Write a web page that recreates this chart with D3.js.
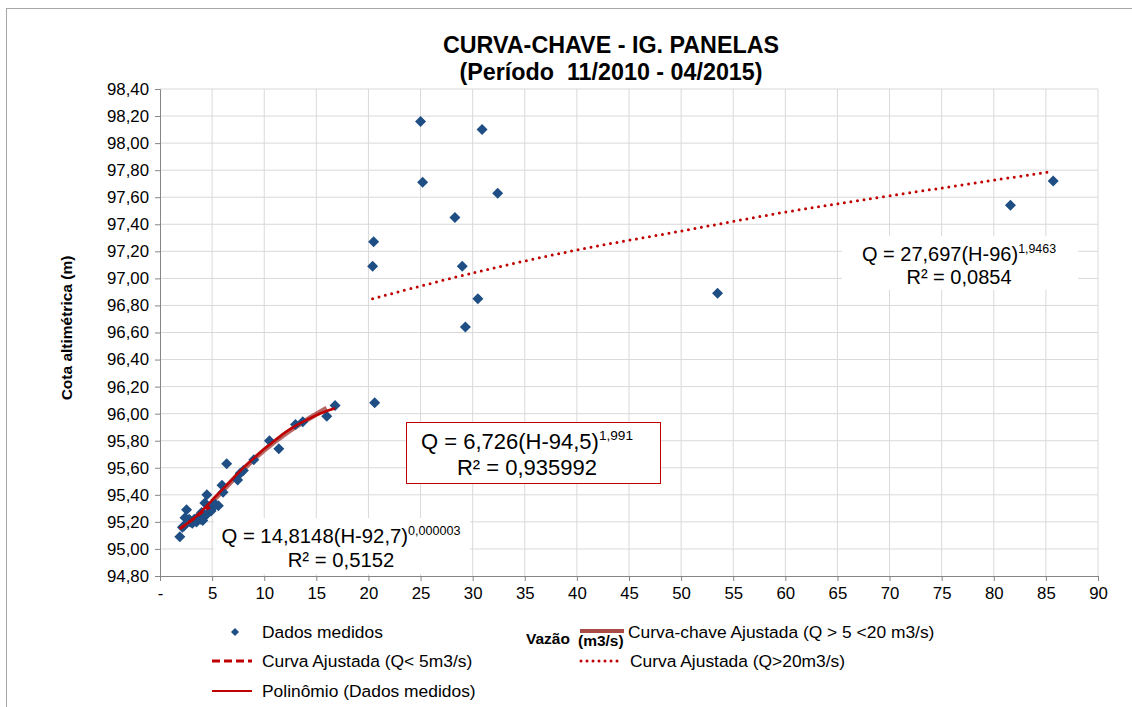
<!DOCTYPE html>
<html>
<head>
<meta charset="utf-8">
<script src="https://cdn.jsdelivr.net/npm/d3@7"></script>
<style>
body { margin: 0; background: #fff; }
text { font-family: "Liberation Sans", Arial, sans-serif; }
</style>
</head>
<body>
<svg width="1132" height="707"></svg>
<script>
// Dados medidos (vazão m3/s, cota m)
const vazao = [25.0, 30.9, 25.2, 32.4, 28.3, 20.5, 20.4, 29.0, 30.5, 29.3, 20.6, 53.5, 81.6, 85.7,
    16.8, 16.0, 13.7, 13.0, 10.5, 11.4, 9.0, 8.0, 7.7, 7.45, 6.4, 5.95, 6.05, 5.6, 5.1, 5.0,
    4.5, 4.3, 4.0, 4.4, 3.5, 3.1, 2.55, 2.4, 2.15, 1.9, 3.7, 2.9, 4.7, 3.3, 3.9, 4.1, 2.8, 2.3, 5.3, 4.9];
const cota = [98.16, 98.10, 97.71, 97.63, 97.45, 97.27, 97.09, 97.09, 96.85, 96.64, 96.08, 96.89, 97.54, 97.72,
    96.06, 95.98, 95.94, 95.92, 95.80, 95.74, 95.66, 95.58, 95.56, 95.51, 95.63, 95.47, 95.42, 95.32, 95.32, 95.30,
    95.40, 95.34, 95.27, 95.25, 95.20, 95.19, 95.29, 95.23, 95.16, 95.09, 95.24, 95.20, 95.31, 95.22, 95.22, 95.21, 95.22, 95.17, 95.33, 95.28];

// curvas
const poliQ = [1.9, 3, 4, 5, 6, 7, 8, 9, 10, 11, 12, 13, 14, 15, 16, 16.8];
const poliH = [95.15, 95.21, 95.28, 95.36, 95.44, 95.52, 95.60, 95.67, 95.74, 95.80, 95.86, 95.91, 95.95, 95.99, 96.02, 96.04];
const chaveQ = [5.0, 6, 8, 10, 12, 14, 16];
const chaveH = [95.35, 95.43, 95.59, 95.73, 95.85, 95.95, 96.04];
const baixaQ = [1.9, 3, 4, 4.8];
const baixaH = [95.15, 95.21, 95.27, 95.31];
const altaQ = [20.4, 30, 40, 50, 60, 70, 85.6];
const altaH = [96.85, 97.04, 97.21, 97.35, 97.49, 97.61, 97.79];

const xTicks = [0, 5, 10, 15, 20, 25, 30, 35, 40, 45, 50, 55, 60, 65, 70, 75, 80, 85, 90];
const yTicks = [94.8, 95.0, 95.2, 95.4, 95.6, 95.8, 96.0, 96.2, 96.4, 96.6, 96.8, 97.0, 97.2, 97.4, 97.6, 97.8, 98.0, 98.2, 98.4];

const svg = d3.select("svg");
const red = "#c00000";
const blue = "#1f4e85";

// borda do gráfico
svg.append("rect")
    .attr("x", 6.5).attr("y", 8.5)
    .attr("width", 1200).attr("height", 800)
    .attr("fill", "none").attr("stroke", "#a6a6a6");

const x = d3.scaleLinear().domain([0, 90]).range([160, 1098]);
const y = d3.scaleLinear().domain([94.8, 98.4]).range([576, 89]);

// grade
svg.append("g")
    .selectAll("line.v")
    .data(xTicks.slice(1))
    .enter().append("line")
    .attr("x1", d => x(d)).attr("x2", d => x(d))
    .attr("y1", y(98.4)).attr("y2", y(94.8))
    .attr("stroke", "#d9d9d9");
svg.append("g")
    .selectAll("line.h")
    .data(yTicks.slice(1))
    .enter().append("line")
    .attr("x1", x(0)).attr("x2", x(90))
    .attr("y1", d => y(d)).attr("y2", d => y(d))
    .attr("stroke", "#d9d9d9");

const fmtY = d => d3.format(".2f")(d).replace(".", ",");

const gx = svg.append("g")
    .attr("transform", `translate(0,${y(94.8)})`)
    .call(d3.axisBottom(x).tickValues(xTicks).tickSize(5).tickPadding(6)
        .tickFormat(d => d === 0 ? "-" : d));
const gy = svg.append("g")
    .attr("transform", `translate(${x(0)},0)`)
    .call(d3.axisLeft(y).tickValues(yTicks).tickSize(5).tickPadding(6).tickFormat(fmtY));

[gx, gy].forEach(g => {
    g.select(".domain").attr("stroke", "#868686");
    g.selectAll(".tick line").attr("stroke", "#868686");
    g.selectAll(".tick text").attr("fill", "#000").style("font-size", "16.8px")
        .style("font-family", "'Liberation Sans', Arial, sans-serif");
});

// curvas
const line = d3.line().x(d => x(d[0])).y(d => y(d[1])).curve(d3.curveCatmullRom);
const zip = (a, b) => a.map((v, i) => [v, b[i]]);

svg.append("path").datum(zip(baixaQ, baixaH)).attr("d", line)
    .attr("fill", "none").attr("stroke", "rgba(225,130,130,0.6)").attr("stroke-width", 6);
svg.append("path").datum(zip(chaveQ, chaveH)).attr("d", line)
    .attr("fill", "none").attr("stroke", "rgba(165,65,60,0.8)").attr("stroke-width", 5);

// pontos medidos
const diamond = r => `M0,${-r}L${r},0L0,${r}L${-r},0Z`;
svg.append("g")
    .selectAll("path")
    .data(zip(vazao, cota))
    .enter().append("path")
    .attr("transform", d => `translate(${x(d[0])},${y(d[1])})`)
    .attr("d", diamond(5.5))
    .attr("fill", blue);

svg.append("path").datum(zip(poliQ, poliH)).attr("d", line)
    .attr("fill", "none").attr("stroke", red).attr("stroke-width", 2.5);
svg.append("path").datum(zip(baixaQ, baixaH)).attr("d", line)
    .attr("fill", "none").attr("stroke", red).attr("stroke-width", 3).attr("stroke-dasharray", "7,4");
svg.append("path").datum(zip(altaQ, altaH)).attr("d", line)
    .attr("fill", "none").attr("stroke", red).attr("stroke-width", 3)
    .attr("stroke-dasharray", "0,6.6").attr("stroke-linecap", "round");

// equações
function equation(cx, y1, main, sup, r2, size, box) {
    const g = svg.append("g");
    g.append("rect").attr("x", box[0]).attr("y", box[1]).attr("width", box[2]).attr("height", box[3])
        .attr("fill", "#fff").attr("stroke", box[4] || "none");
    const t = g.append("text").attr("x", cx).attr("y", y1).attr("text-anchor", "middle")
        .style("font-size", size + "px");
    t.append("tspan").text(main);
    t.append("tspan").attr("dy", -size * 0.4).style("font-size", (size * 0.62) + "px").text(sup);
    g.append("text").attr("x", cx).attr("y", y1 + size * 1.17).attr("text-anchor", "middle")
        .style("font-size", size + "px").text(r2);
}
equation(527, 449, "Q = 6,726(H-94,5)", "1,991", "R² = 0,935992", 22, [406.5, 422.5, 254, 61, red]);
equation(959, 261, "Q = 27,697(H-96)", "1,9463", "R² = 0,0854", 20, [842, 236, 236, 54]);
equation(341, 543, "Q = 14,8148(H-92,7)", "0,000003", "R² = 0,5152", 20.3, [214, 518, 256, 56]);

// títulos
svg.append("text").attr("x", 611).attr("y", 53).attr("text-anchor", "middle")
    .style("font-size", "23.3px").style("font-weight", "bold").text("CURVA-CHAVE - IG. PANELAS");
svg.append("text").attr("x", 611).attr("y", 80).attr("text-anchor", "middle")
    .style("font-size", "23.3px").style("font-weight", "bold").attr("xml:space", "preserve")
    .text("(Período  11/2010 - 04/2015)");
svg.append("text").attr("transform", "translate(72,328) rotate(-90)").attr("text-anchor", "middle")
    .style("font-size", "15.5px").style("font-weight", "bold").text("Cota altimétrica (m)");

// legenda
const lg = svg.append("g").style("font-size", "17.4px");
lg.append("path").attr("transform", "translate(235,632)").attr("d", diamond(4)).attr("fill", blue);
lg.append("text").attr("x", 262).attr("y", 638).text("Dados medidos");
lg.append("line").attr("x1", 212).attr("x2", 252).attr("y1", 661).attr("y2", 661)
    .attr("stroke", red).attr("stroke-width", 3).attr("stroke-dasharray", "8,4");
lg.append("text").attr("x", 262).attr("y", 667).text("Curva Ajustada (Q< 5m3/s)");
lg.append("line").attr("x1", 212).attr("x2", 252).attr("y1", 691).attr("y2", 691)
    .attr("stroke", red).attr("stroke-width", 2);
lg.append("text").attr("x", 262).attr("y", 697).text("Polinômio (Dados medidos)");
lg.append("line").attr("x1", 580).attr("x2", 624).attr("y1", 631).attr("y2", 631)
    .attr("stroke", "#a84b47").attr("stroke-width", 4);
lg.append("text").attr("x", 628).attr("y", 638).text("Curva-chave Ajustada (Q > 5 <20 m3/s)");
lg.append("line").attr("x1", 581).attr("x2", 621).attr("y1", 661).attr("y2", 661)
    .attr("stroke", red).attr("stroke-width", 3).attr("stroke-dasharray", "0,6").attr("stroke-linecap", "round");
lg.append("text").attr("x", 630).attr("y", 667).text("Curva Ajustada (Q>20m3/s)");

svg.append("text").attr("x", 526).attr("y", 644).style("font-size", "15.5px").style("font-weight", "bold")
    .text("Vazão");
svg.append("text").attr("x", 578).attr("y", 646).style("font-size", "15.5px").style("font-weight", "bold")
    .text("(m3/s)");
</script>
</body>
</html>
